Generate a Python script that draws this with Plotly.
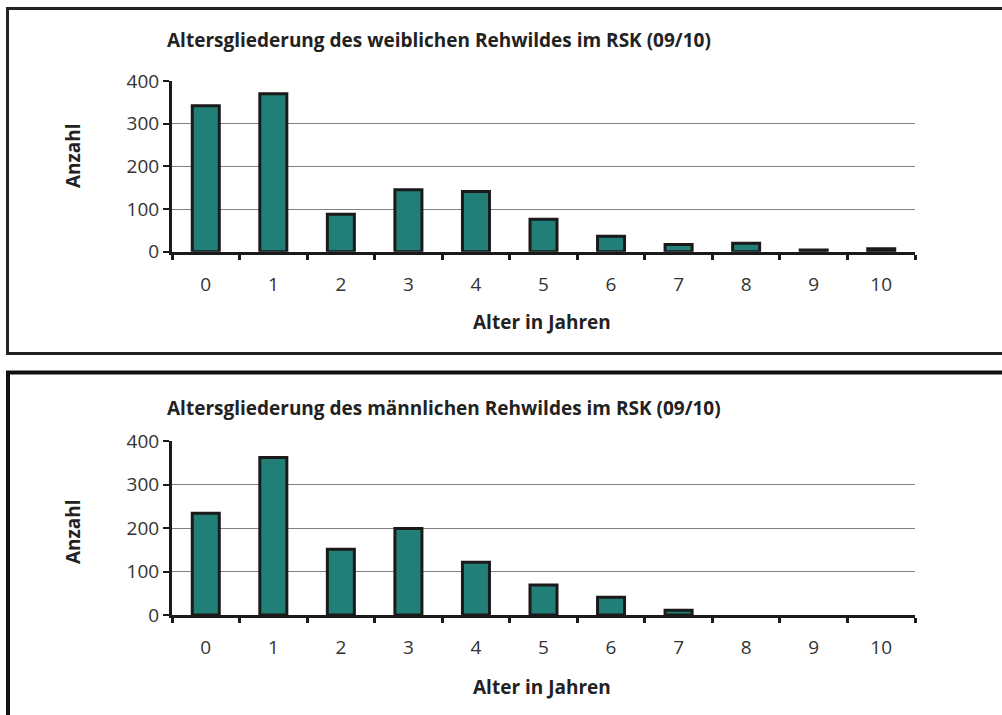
import plotly.graph_objects as go

# Age classes (years) and counts of harvested roe deer, season 09/10
alter = ["0", "1", "2", "3", "4", "5", "6", "7", "8", "9", "10"]
weiblich = [342, 370, 88, 145, 141, 76, 36, 17, 20, 4, 7]
maennlich = [234, 362, 151, 199, 121, 69, 41, 11, 0, 0, 0]

titel_w = "Altersgliederung des weiblichen Rehwildes im RSK (09/10)"
titel_m = "Altersgliederung des männlichen Rehwildes im RSK (09/10)"
y_ticks = [0, 100, 200, 300, 400]

W, H = 1002, 715
FONT = "Open Sans"
TEAL = "#217f78"
DARK = "#1a1a1a"


def px(x):
    return x / W


def py(y):
    return 1 - y / H


def bar(values, xa, ya):
    # empty age classes get no outline, so nothing is drawn for them
    return go.Bar(x=alter, y=values, xaxis=xa, yaxis=ya,
                  marker=dict(color=TEAL,
                              line=dict(color=DARK,
                                        width=[3 if v > 0 else 0 for v in values])))


fig = go.Figure()
fig.add_trace(bar(weiblich, "x", "y"))
fig.add_trace(bar(maennlich, "x2", "y2"))

xdom = [px(172), px(915)]
panels = [
    dict(top=81, bottom=251.7),
    dict(top=441, bottom=615),
]

tick_font = dict(family=FONT, size=19, color="#333333")
xcommon = dict(type="category", domain=xdom, showline=True, linecolor=DARK,
               linewidth=3, ticks="outside", tickson="boundaries", ticklen=5,
               tickwidth=3, tickcolor=DARK, showgrid=False, zeroline=False,
               tickfont=tick_font, ticklabelstandoff=13, automargin=False,
               fixedrange=True)
ycommon = dict(range=[0, 400], tickvals=y_ticks, showline=True, linecolor=DARK,
               linewidth=3, ticks="outside", ticklen=6, tickwidth=2,
               tickcolor=DARK, showgrid=True, gridcolor="#808080", gridwidth=1,
               zeroline=False, tickfont=tick_font, automargin=False,
               fixedrange=True)

fig.update_layout(
    template="none",
    width=W, height=H,
    margin=dict(l=0, r=0, t=0, b=0, autoexpand=False),
    paper_bgcolor="white", plot_bgcolor="white",
    showlegend=False, bargap=0.6,
    xaxis=dict(xcommon, anchor="y"),
    yaxis=dict(ycommon, anchor="x", domain=[py(panels[0]["bottom"]), py(panels[0]["top"])]),
    xaxis2=dict(xcommon, anchor="y2"),
    yaxis2=dict(ycommon, anchor="x2", domain=[py(panels[1]["bottom"]), py(panels[1]["top"])]),
)

# Panel frames (right and bottom sides run off the page)
l1, t1, b1 = px(7.5), py(8.5), py(353.5)
fig.add_shape(type="path", xref="paper", yref="paper",
              path=f"M 1,{b1} L {l1},{b1} L {l1},{t1} L 1,{t1}",
              line=dict(color="#222222", width=3), layer="below")
l2, t2 = px(8), py(372.5)
fig.add_shape(type="path", xref="paper", yref="paper",
              path=f"M {l2},0 L {l2},{t2} L 1,{t2}",
              line=dict(color="#111111", width=4), layer="below")

title_font = dict(family=FONT, size=19, color="#222222")
axis_font = dict(family=FONT, size=19, color="#222222")

for titel, ty, ay, xy in [(titel_w, 40, 156, 322), (titel_m, 408, 532, 687)]:
    fig.add_annotation(text="<b>%s</b>" % titel, xref="paper", yref="paper",
                       x=px(165), y=py(ty), xanchor="left", yanchor="middle",
                       showarrow=False, font=title_font)
    fig.add_annotation(text="<b>Anzahl</b>", xref="paper", yref="paper",
                       x=px(73), y=py(ay), xanchor="center", yanchor="middle",
                       textangle=-90, showarrow=False, font=axis_font)
    fig.add_annotation(text="<b>Alter in Jahren</b>", xref="paper", yref="paper",
                       x=px(542), y=py(xy), xanchor="center", yanchor="middle",
                       showarrow=False, font=axis_font)

fig.write_html("out.html")
